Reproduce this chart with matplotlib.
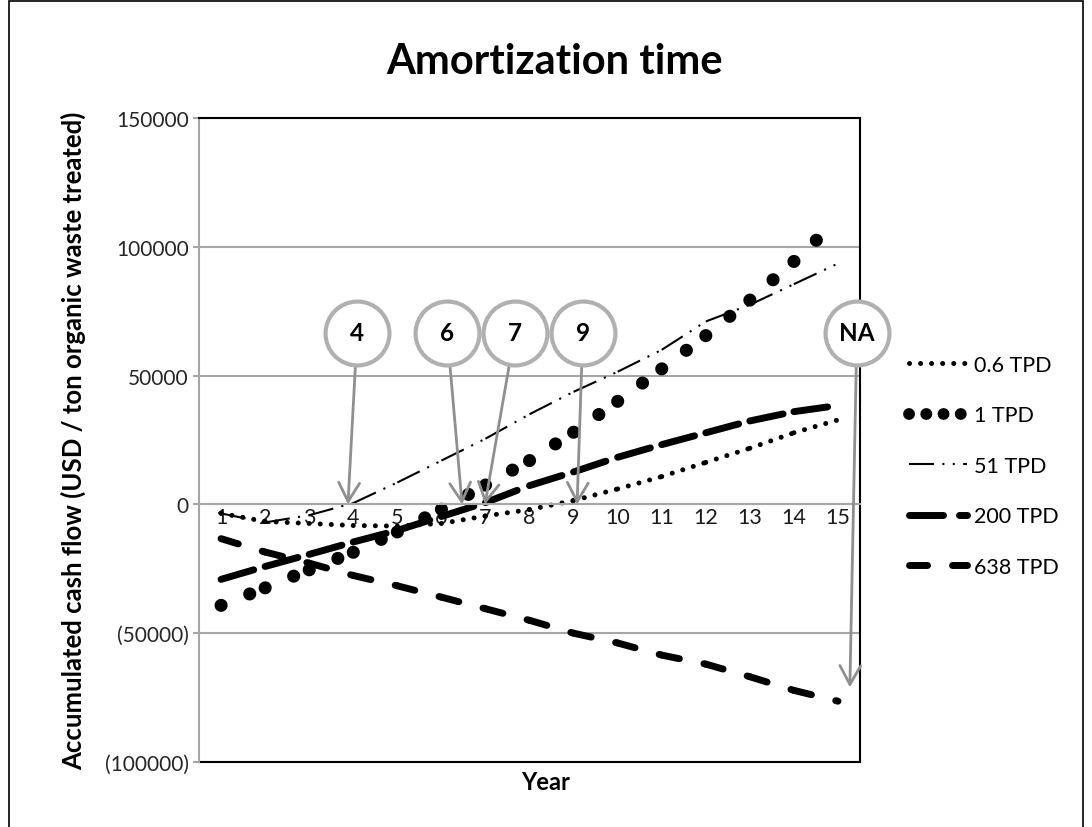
import matplotlib
matplotlib.use("Agg")
import matplotlib.pyplot as plt
from matplotlib.lines import Line2D
from matplotlib.ticker import FuncFormatter, MultipleLocator

plt.rcParams["font.family"] = ["Lato", "DejaVu Sans"]

# accumulated cash flow per year, USD / ton organic waste treated
years = list(range(1, 16))
tpd_0_6 = [-3500, -6600, -7400, -8200, -8400, -7400, -4500, -2000,
           1500, 6000, 10800, 16300, 21800, 27800, 32800]
tpd_1 = [-39200, -32400, -25400, -18600, -10700, -1900, 7500, 17000,
         28000, 40000, 52600, 65500, 79300, 94300, 110500]
tpd_51 = [-3500, -7000, -4200, 500, 8500, 17000, 25500, 35000,
          43700, 51500, 60000, 71000, 77500, 85500, 93500]
tpd_200 = [-29100, -24100, -19400, -14600, -10100, -4700, 700, 7300,
           12600, 18300, 23200, 27800, 32400, 36000, 38400]
tpd_638 = [-13300, -18500, -22800, -27600, -31600, -36000, -40500, -45000,
           -50000, -53800, -58500, -62000, -66900, -72200, -76400]
series_labels = ["0.6 TPD", "1 TPD", "51 TPD", "200 TPD", "638 TPD"]

# payback callouts: bubble text, bubble x, arrow tip
callout_labels = ["4", "6", "7", "9", "NA"]
callout_x = [4.09, 6.13, 7.67, 9.21, 15.43]
callout_y = 66700
tip_x = [3.88, 6.47, 6.99, 9.08, 15.27]
tip_y = [0, 0, 0, 0, -71000]

styles = [
    dict(lw=3.6, dashes=(0.01, 2.2), dash_capstyle="round"),
    dict(lw=9.4, dashes=(0.01, 2.35), dash_capstyle="round"),
    dict(lw=1.5, dashes=(12, 4, 1, 4, 1, 4), dash_capstyle="butt"),
    dict(lw=5.0, dashes=(4.9, 2.3), dash_capstyle="round"),
    dict(lw=5.0, dashes=(2.6, 3.6), dash_capstyle="round"),
]
# the legend sample of the big dots is packed tighter
legend_styles = list(styles)
legend_styles[1] = dict(lw=8.5, dashes=(0.01, 1.45), dash_capstyle="round")


def draw_series(ax, x, y, style):
    # one segment at a time so the dash pattern restarts at every year
    for i in range(len(x) - 1):
        ax.plot(x[i:i + 2], y[i:i + 2], color="black", **style)


def paren_fmt(v, pos):
    v = int(round(v))
    return f"({abs(v)})" if v < 0 else f"{v}"


fig = plt.figure(figsize=(10.92, 8.28), dpi=100)
ax = fig.add_axes([199 / 1092, 1 - 763 / 828, 661 / 1092, 644 / 828])
ax.set_xlim(0.5, 15.5)
ax.set_ylim(-100000, 150000)

grid_c = "#A6A6A6"
ax.yaxis.set_major_locator(MultipleLocator(50000))
ax.yaxis.set_major_formatter(FuncFormatter(paren_fmt))
ax.grid(axis="y", color=grid_c, lw=1.5)
ax.set_axisbelow(True)

for data, st in zip([tpd_0_6, tpd_1, tpd_51, tpd_200, tpd_638], styles):
    draw_series(ax, years, data, st)

# frame: category axis sits on zero, black box on the other sides
ax.spines["bottom"].set_position(("data", 0))
ax.spines["bottom"].set_color(grid_c)
ax.spines["bottom"].set_linewidth(1.5)
ax.spines["left"].set_color(grid_c)
ax.spines["left"].set_linewidth(1.5)
for side in ("top", "right"):
    ax.spines[side].set_color("black")
    ax.spines[side].set_linewidth(1.5)
ax.plot([0, 1], [0, 0], transform=ax.transAxes, color="black", lw=1.5,
        clip_on=False)

ax.set_xticks(years)
ax.tick_params(axis="x", length=0, pad=2, labelsize=15.5, labelcolor="#1a1a1a")
ax.tick_params(axis="y", direction="out", length=4.5, width=1.5, color=grid_c,
               pad=3, labelsize=15, labelcolor="#262626")

ax.set_ylabel("Accumulated cash flow (USD / ton organic waste treated)",
              fontsize=18.5, fontweight="bold")
ax.yaxis.set_label_coords(-0.171, 0.5)

# payback bubbles with arrows
arrow_c = "#8F8F8F"
for lab, cx, tx, ty in zip(callout_labels, callout_x, tip_x, tip_y):
    ax.annotate("", xy=(tx, ty), xytext=(cx, callout_y),
                arrowprops=dict(arrowstyle="->,head_length=0.45,head_width=0.25",
                                color=arrow_c, lw=2.0, shrinkA=24, shrinkB=0,
                                mutation_scale=30),
                zorder=5)
    ax.plot(cx, callout_y, "o", ms=46, mfc="white", mec="#B0B0B0", mew=3,
            clip_on=False, zorder=6)
    ax.text(cx, callout_y, lab, ha="center", va="center", fontsize=17.5,
            fontweight="bold", zorder=7, clip_on=False)

handles = [Line2D([], [], color="black", **st) for st in legend_styles]
fig.legend(handles, series_labels, loc="upper left",
           bbox_to_anchor=(900 / 1092, 1 - 347 / 828), frameon=False,
           fontsize=15.5, handlelength=2.7, handletextpad=0.35,
           labelspacing=1.42, borderaxespad=0)

fig.text(555 / 1092, 1 - 62 / 828, "Amortization time", ha="center",
         va="center", fontsize=30, fontweight="bold")
fig.text(546 / 1092, 1 - 783 / 828, "Year", ha="center", va="center",
         fontsize=17, fontweight="bold")

# outer chart border
fig.add_artist(plt.Rectangle((9 / 1092, -0.01), 1074 / 1092, 1 - 2 / 828 + 0.01,
                             transform=fig.transFigure, fill=False,
                             ec="black", lw=1.2))

fig.savefig("out.png", dpi=100)
